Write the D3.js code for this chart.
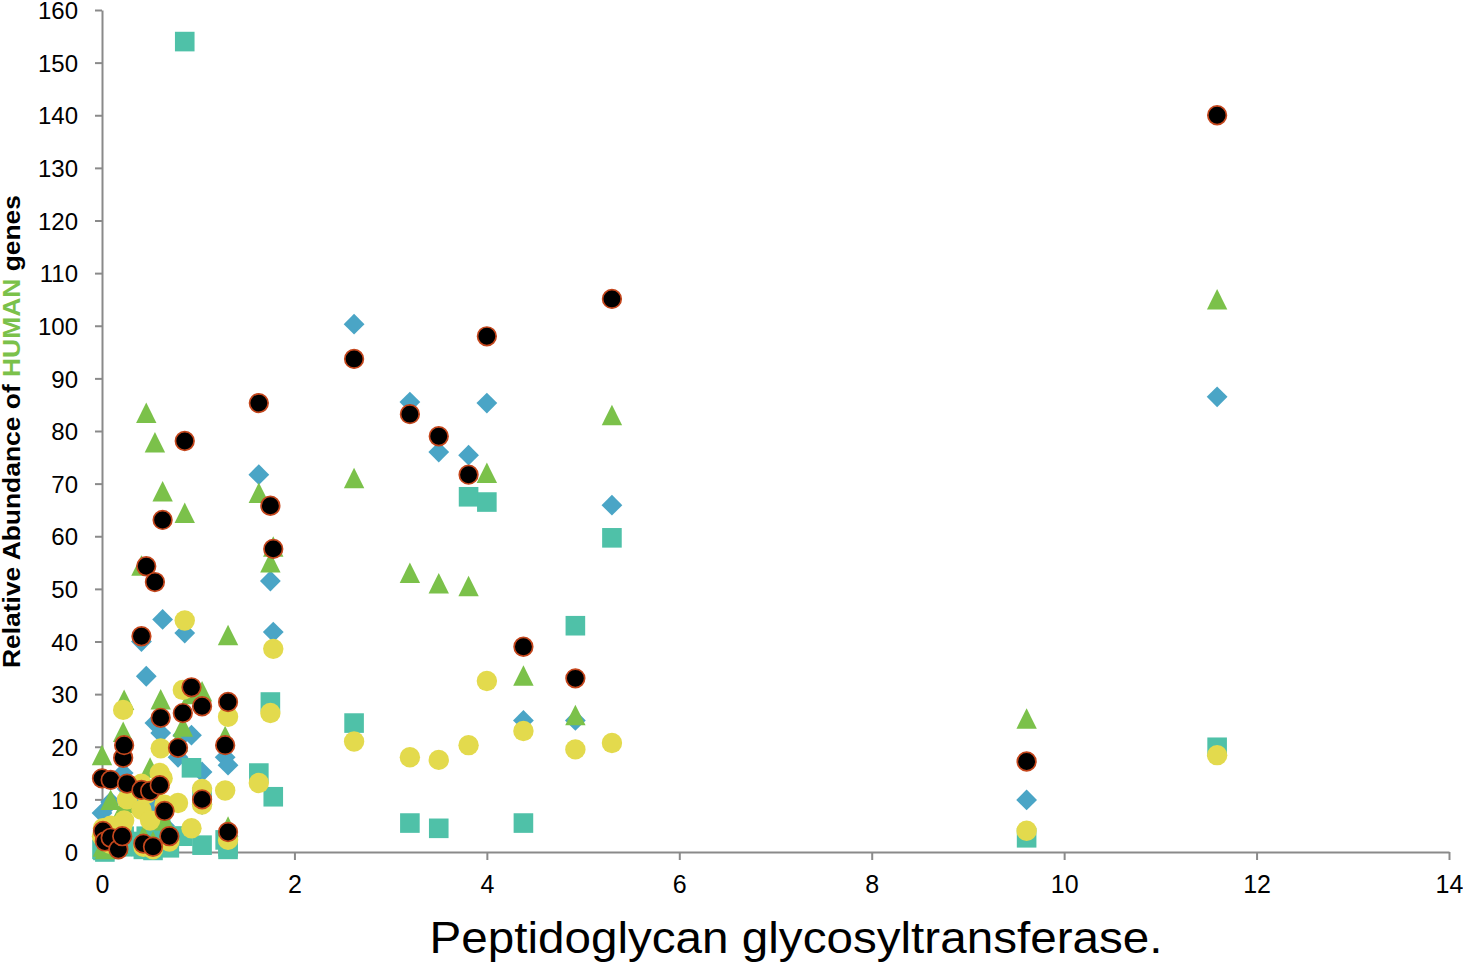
<!DOCTYPE html>
<html>
<head>
<meta charset="utf-8">
<script src="https://cdn.jsdelivr.net/npm/d3@7"></script>
<style>
  html, body { margin: 0; padding: 0; background: #fff; }
  svg { display: block; }
  text { font-family: "Liberation Sans", Arial, Helvetica, sans-serif; fill: #000; }
</style>
</head>
<body>
<svg id="chart" width="1463" height="966"></svg>
<script>
// ---- Data ----
const xValues = [0.00, 0.09, 0.01, 0.03, 0.09, 0.17, 0.22, 0.23, 0.21, 0.26,
                 0.41, 0.41, 0.43, 0.46, 0.50, 0.53, 0.55, 0.60, 0.61, 0.63,
                 0.65, 0.70, 0.79, 0.84, 0.86, 0.93, 1.04, 1.04, 1.28, 1.31,
                 1.31, 1.63, 1.75, 1.78, 2.62, 3.20, 3.50, 3.81, 4.00, 4.38,
                 4.92, 5.30, 9.61, 11.59];
const diamondValues = [7.4, 9.5, 2, 1.5, 3, 1, 15, 14, 6, 12,
                       40, 10, 2, 33.4, 9, 1, 24.5, 13, 22.6, 44.2,
                       5, 3, 18, 22.2, 41.6, 22.2, 15.2, 9, 18, 16.5,
                       3, 71.7, 51.5, 41.8, 100.3, 85.5, 76, 75.4, 85.3, 25,
                       25, 65.9, 9.9, 86.5];
const squareValues = [0.5, 1, 0.3, 0, 0.5, 1.5, 2, 3, 1, 1.5,
                      2, 1, 0.5, 3, 2, 0.3, 4, 3, 5, 2.5,
                      1, 0.8, 3, 3, 154, 16, 1.3, 10.5, 2.3, 1,
                      0.5, 15, 28.5, 10.5, 24.5, 5.5, 4.5, 67.5, 66.5, 5.5,
                      43, 59.7, 2.7, 19.9];
const triangleValues = [18.4, 9.9, 1, 0.5, 2, 1.5, 22.8, 28.9, 8, 9.3,
                        54.4, 12, 3, 83.4, 16, 2, 77.8, 14, 29, 68.5,
                        6, 4, 21, 23.8, 64.4, 30, 30.5, 11, 22, 41.2,
                        4.8, 68.2, 55, 58, 71, 53, 51, 50.5, 72, 33.5,
                        26, 83, 25.3, 105];
const yellowValues = [3, 5, 4.5, 2.5, 1.5, 4, 27, 6, 5, 10,
                      13, 8, 1, 11, 6, 0.5, 12, 15, 19.7, 14,
                      9, 2, 9.3, 30.8, 44, 4.5, 12, 9, 11.7, 25.7,
                      2.3, 13.1, 26.4, 38.6, 21, 18, 17.5, 20.3, 32.5, 23,
                      19.5, 20.7, 4.05, 18.4];
const blackValues = [14, 13.7, 4, 2, 2.7, 0.5, 17.9, 20.3, 3, 13,
                     41, 11.8, 1.6, 54.3, 11.6, 1, 51.3, 12.7, 25.5, 63.1,
                     7.8, 3, 19.8, 26.4, 78.1, 31.3, 27.7, 10, 20.3, 28.5,
                     3.8, 85.3, 65.8, 57.6, 93.7, 83.2, 79, 71.7, 98, 39,
                     33, 105.1, 17.2, 140];
const xTickValues = [0, 2, 4, 6, 8, 10, 12, 14];
const yTickValues = [0, 10, 20, 30, 40, 50, 60, 70, 80, 90, 100, 110, 120, 130, 140, 150, 160];

// ---- Layout ----
const svg = d3.select("#chart");
const x = d3.scaleLinear().domain([0, 14]).range([102, 1449]);
const y = d3.scaleLinear().domain([0, 160]).range([852, 10]);
const axisColor = "#8a8a8a";

// Axes
const gx = svg.append("g").attr("transform", "translate(0,852)")
  .call(d3.axisBottom(x).tickValues(xTickValues).tickSize(8).tickSizeOuter(0).tickFormat(d3.format("d")));
gx.selectAll("text").attr("y", 32).attr("dy", "0.35em").style("font-size", "25px");

const gy = svg.append("g").attr("transform", "translate(102,0)")
  .call(d3.axisLeft(y).tickValues(yTickValues).tickSize(7).tickPadding(17).tickSizeOuter(0).tickFormat(d3.format("d")));
gy.selectAll("text").attr("dy", "0.36em").style("font-size", "24px");

svg.selectAll(".domain, .tick line").attr("stroke", axisColor).attr("stroke-width", 2);
svg.selectAll(".tick text").attr("fill", "#000");

// Markers
const pts = (vals) => xValues.map((xv, i) => ({ x: xv, y: vals[i] })).filter(d => d.y != null);

const marks = svg.append("g");

marks.append("g").selectAll("path").data(pts(diamondValues)).join("path")
  .attr("transform", d => `translate(${x(d.x)},${y(d.y)})`)
  .attr("d", "M0,-10.4L10.4,0L0,10.4L-10.4,0Z")
  .attr("fill", "#4aa5c6");

marks.append("g").selectAll("rect").data(pts(squareValues)).join("rect")
  .attr("x", d => x(d.x) - 9.8).attr("y", d => y(d.y) - 9.8)
  .attr("width", 19.6).attr("height", 19.6)
  .attr("fill", "#4fc1a8");

marks.append("g").selectAll("path").data(pts(triangleValues)).join("path")
  .attr("transform", d => `translate(${x(d.x)},${y(d.y)})`)
  .attr("d", "M0,-10.5L10.2,10L-10.2,10Z")
  .attr("fill", "#7bc14a");

marks.append("g").selectAll("circle").data(pts(yellowValues)).join("circle")
  .attr("cx", d => x(d.x)).attr("cy", d => y(d.y)).attr("r", 10.2)
  .attr("fill", "#e3da4d");

marks.append("g").selectAll("circle").data(pts(blackValues)).join("circle")
  .attr("cx", d => x(d.x)).attr("cy", d => y(d.y)).attr("r", 9.3)
  .attr("fill", "#000").attr("stroke", "#c4461c").attr("stroke-width", 1.7);

// Axis titles
svg.append("text")
  .attr("x", 796).attr("y", 953)
  .attr("text-anchor", "middle")
  .attr("textLength", 733).attr("lengthAdjust", "spacingAndGlyphs")
  .style("font-size", "45px")
  .text("Peptidoglycan glycosyltransferase.");

const yt = svg.append("text")
  .attr("transform", "translate(20,431.5) rotate(-90)")
  .attr("text-anchor", "middle")
  .attr("textLength", 473).attr("lengthAdjust", "spacingAndGlyphs")
  .style("font-size", "24px").style("font-weight", "bold");
yt.append("tspan").text("Relative Abundance of ");
yt.append("tspan").attr("fill", "#7bc14a").text("HUMAN");
yt.append("tspan").text(" genes");
</script>
</body>
</html>
